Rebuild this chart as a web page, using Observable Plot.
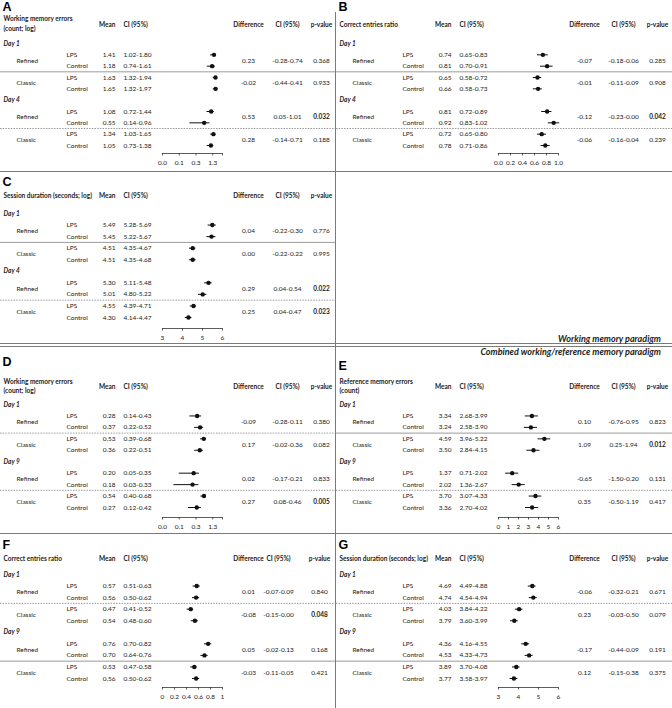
<!DOCTYPE html>
<html><head><meta charset="utf-8">
<script src="https://cdn.jsdelivr.net/npm/d3@7"></script>
<script src="https://cdn.jsdelivr.net/npm/@observablehq/plot@0.6"></script>
<style>
html,body{margin:0;padding:0;background:#fff;}
#fig{position:relative;width:672px;height:708px;overflow:hidden;background:#fff;}
.panel{position:absolute;}
.panel svg{display:block;overflow:visible;}
.hline{position:absolute;left:0;width:672px;height:0;border-top:1.5px solid #7a7a7a;}
.vline{position:absolute;width:0;border-left:1.5px solid #7a7a7a;}
.paradigm{position:absolute;right:11px;font-family:Lato,sans-serif;font-style:italic;font-weight:bold;font-size:9px;line-height:10px;color:#222;white-space:nowrap;}
</style></head><body><div id="fig"></div>
<script>
// ---------- data ----------
const protocols = ["Refined", "Classic"];
const treatments = ["LPS", "Control"];
const colHeaders = ["Mean", "CI (95%)", "Difference", "CI (95%)", "p-value"];

const titleA = ["Working memory errors", "(count; log)"];
const titleB = ["Correct entries ratio"];
const titleC = ["Session duration (seconds; log)"];
const titleD = ["Working memory errors", "(count; log)"];
const titleE = ["Reference memory errors", "(count)"];
const titleF = ["Correct entries ratio"];
const titleG = ["Session duration (seconds; log)"];
const daysWM = ["Day 1", "Day 4"];
const daysComb = ["Day 1", "Day 9"];

// order: day1 Refined LPS, Control, Classic LPS, Control, day2 Refined LPS, Control, Classic LPS, Control
const meanA = [1.41, 1.18, 1.63, 1.65, 1.08, 0.55, 1.34, 1.05];
const loA   = [1.02, 0.74, 1.32, 1.32, 0.72, 0.14, 1.03, 0.73];
const hiA   = [1.80, 1.61, 1.94, 1.97, 1.44, 0.96, 1.65, 1.38];
const diffA = [0.23, -0.02, 0.53, 0.28];
const dloA  = [-0.28, -0.44, 0.05, -0.14];
const dhiA  = [0.74, 0.41, 1.01, 0.71];
const pA    = [0.368, 0.933, 0.032, 0.188];

const meanB = [0.74, 0.81, 0.65, 0.66, 0.81, 0.92, 0.72, 0.78];
const loB   = [0.65, 0.70, 0.58, 0.58, 0.72, 0.83, 0.65, 0.71];
const hiB   = [0.83, 0.91, 0.72, 0.73, 0.89, 1.02, 0.80, 0.86];
const diffB = [-0.07, -0.01, -0.12, -0.06];
const dloB  = [-0.18, -0.11, -0.23, -0.16];
const dhiB  = [0.06, 0.09, 0.00, 0.04];
const pB    = [0.285, 0.908, 0.042, 0.239];

const meanC = [5.49, 5.45, 4.51, 4.51, 5.30, 5.01, 4.55, 4.30];
const loC   = [5.28, 5.22, 4.35, 4.35, 5.11, 4.80, 4.39, 4.14];
const hiC   = [5.69, 5.67, 4.67, 4.68, 5.48, 5.22, 4.71, 4.47];
const diffC = [0.04, 0.00, 0.29, 0.25];
const dloC  = [-0.22, -0.22, 0.04, 0.04];
const dhiC  = [0.30, 0.22, 0.54, 0.47];
const pC    = [0.776, 0.995, 0.022, 0.023];

const meanD = [0.28, 0.37, 0.53, 0.36, 0.20, 0.18, 0.54, 0.27];
const loD   = [0.14, 0.22, 0.39, 0.22, 0.05, 0.03, 0.40, 0.12];
const hiD   = [0.43, 0.52, 0.68, 0.51, 0.35, 0.33, 0.68, 0.42];
const diffD = [-0.09, 0.17, 0.02, 0.27];
const dloD  = [-0.28, -0.02, -0.17, 0.08];
const dhiD  = [0.11, 0.36, 0.21, 0.46];
const pD    = [0.380, 0.082, 0.833, 0.005];

const meanE = [3.34, 3.24, 4.59, 3.50, 1.37, 2.02, 3.70, 3.36];
const loE   = [2.68, 2.58, 3.96, 2.84, 0.71, 1.36, 3.07, 2.70];
const hiE   = [3.99, 3.90, 5.22, 4.15, 2.02, 2.67, 4.33, 4.02];
const diffE = [0.10, 1.09, -0.65, 0.35];
const dloE  = [-0.76, 0.25, -1.50, -0.50];
const dhiE  = [0.95, 1.94, 0.20, 1.19];
const pE    = [0.823, 0.012, 0.131, 0.417];

const meanF = [0.57, 0.56, 0.47, 0.54, 0.76, 0.70, 0.53, 0.56];
const loF   = [0.51, 0.50, 0.41, 0.48, 0.70, 0.64, 0.47, 0.50];
const hiF   = [0.63, 0.62, 0.52, 0.60, 0.82, 0.76, 0.58, 0.62];
const diffF = [0.01, -0.08, 0.05, -0.03];
const dloF  = [-0.07, -0.15, -0.02, -0.11];
const dhiF  = [0.09, 0.00, 0.13, 0.05];
const pF    = [0.840, 0.048, 0.168, 0.421];

const meanG = [4.69, 4.74, 4.03, 3.79, 4.36, 4.53, 3.89, 3.77];
const loG   = [4.49, 4.54, 3.84, 3.60, 4.16, 4.33, 3.70, 3.58];
const hiG   = [4.88, 4.94, 4.22, 3.99, 4.55, 4.73, 4.08, 3.97];
const diffG = [-0.06, 0.23, -0.17, 0.12];
const dloG  = [-0.32, -0.03, -0.44, -0.15];
const dhiG  = [0.21, 0.50, 0.09, 0.38];
const pG    = [0.671, 0.079, 0.191, 0.375];

// axis ticks
const ticksLog = [0.01, 0.05, 0.25, 1.25, 3.2];
const tickLabelsLog = ["0.0", "0.1", "0.3", "1.3", ""];
const ticksRatio = [0, 0.2, 0.4, 0.6, 0.8, 1];
const tickLabelsRatioB = ["0.0", "0.2", "0.4", "0.6", "0.8", "1.0"];
const tickLabelsRatioF = ["0", "0.2", "0.4", "0.6", "0.8", "1"];
const ticksDur = [3, 4, 5, 6];
const tickLabelsDur = ["3", "4", "5", "6"];
const ticksRef = [0, 1, 2, 3, 4, 5, 6];
const tickLabelsRef = ["0", "1", "2", "3", "4", "5", "6"];

const paradigmLabels = ["Working memory paradigm", "Combined working/reference memory paradigm"];

// ---------- layout ----------
const colsDefault = {day: 3, protocol: 16, treat: 66, mean: 115, ci: 123, diff: 248, dci: 287, p: 321};
const colsF = {...colsDefault, dci: 278, p: 319};
const layWM = {h: 172, p0: 43, p9: 145, axis: 153};

const specs = [
  {id: "A", left: 0, top: 0, ...layWM, letterY: 6, titleY: [18, 28], headY: 24, seps: ["solid", "dash"], xType: "log", xDomain: [0.01, 3.2], ticks: ticksLog, labels: tickLabelsLog,
   title: titleA, days: daysWM, mean: meanA, lo: loA, hi: hiA, diff: diffA, dlo: dloA, dhi: dhiA, p: pA, cols: colsDefault},
  {id: "B", left: 336, top: 0, ...layWM, letterY: 6, titleY: [24], headY: 24, seps: ["solid", "dash"], xType: "linear", xDomain: [0, 1], ticks: ticksRatio, labels: tickLabelsRatioB,
   title: titleB, days: daysWM, mean: meanB, lo: loB, hi: hiB, diff: diffB, dlo: dloB, dhi: dhiB, p: pB, cols: colsDefault},
  {id: "C", left: 0, top: 172, h: 172, p0: 41, p9: 145, axis: 156, letterY: 9, titleY: [23], headY: 23, seps: ["solid", "dash"], xType: "linear", xDomain: [3, 6], ticks: ticksDur, labels: tickLabelsDur,
   title: titleC, days: daysWM, mean: meanC, lo: loC, hi: hiC, diff: diffC, dlo: dloC, dhi: dhiC, p: pC, cols: colsDefault},
  {id: "D", left: 0, top: 346, h: 188, p0: 58, p9: 161, axis: 171, letterY: 15, titleY: [35, 44], headY: 40, seps: ["dash", "dash"], xType: "log", xDomain: [0.01, 3.2], ticks: ticksLog, labels: tickLabelsLog,
   title: titleD, days: daysComb, mean: meanD, lo: loD, hi: hiD, diff: diffD, dlo: dloD, dhi: dhiD, p: pD, cols: colsDefault},
  {id: "E", left: 336, top: 346, h: 188, p0: 58, p9: 161, axis: 171, letterY: 19, titleY: [35, 44], headY: 40, seps: ["solid", "dash"], xType: "linear", xDomain: [0, 6], ticks: ticksRef, labels: tickLabelsRef,
   title: titleE, days: daysComb, mean: meanE, lo: loE, hi: hiE, diff: diffE, dlo: dloE, dhi: dhiE, p: pE, cols: colsDefault},
  {id: "F", left: 0, top: 534, h: 174, p0: 40, p9: 144, axis: 153, letterY: 10, titleY: [24], headY: 24, seps: ["dash", "solid"], xType: "linear", xDomain: [0, 1], ticks: ticksRatio, labels: tickLabelsRatioF,
   title: titleF, days: daysComb, mean: meanF, lo: loF, hi: hiF, diff: diffF, dlo: dloF, dhi: dhiF, p: pF, cols: colsF},
  {id: "G", left: 336, top: 534, h: 174, p0: 40, p9: 144, axis: 153, letterY: 10, titleY: [24], headY: 24, seps: ["dash", "solid"], xType: "linear", xDomain: [3, 6], ticks: ticksDur, labels: tickLabelsDur,
   title: titleG, days: daysComb, mean: meanG, lo: loG, hi: hiG, diff: diffG, dlo: dloG, dhi: dhiG, p: pG, cols: colsDefault}
];

const rowIdx = [1, 2, 3, 4, 6, 7, 8, 9];
const groupRows = [1.5, 3.5, 6.5, 8.5];
const dayRows = [0, 5];

const FONT = "Lato, 'Open Sans', sans-serif";
const TXT = "#222";
const FS = 6.5;
const f2 = v => v.toFixed(2);

function panel(s) {
  const toRow = px => 9 * (px - s.p0) / (s.p9 - s.p0);
  const c = s.cols;
  const rows = s.mean.map((m, i) => ({row: rowIdx[i], treat: treatments[i % 2], mean: m, lo: s.lo[i], hi: s.hi[i]}));
  const groups = s.diff.map((d, i) => ({row: groupRows[i], protocol: protocols[i % 2], diff: d, dlo: s.dlo[i], dhi: s.dhi[i], p: s.p[i]}));
  const days = s.days.map((d, i) => ({row: dayRows[i], label: d}));
  const tickData = s.ticks.map((v, i) => ({v, label: s.labels[i]}));
  const axisRow = toRow(s.axis), tickEnd = toRow(s.axis + 2.5), labelRow = toRow(s.axis + 9);
  const txt = (data, o) => Plot.text(data, {frameAnchor: "left", fontSize: FS, fill: TXT, fontFamily: FONT, ...o});
  const sep = (r, kind) => Plot.ruleY([r], {stroke: "#9a9a9a", strokeWidth: 1, ...(kind === "dash" ? {strokeDasharray: "1.5,1.2"} : {})});
  const headRow = toRow(s.headY);
  return Plot.plot({
    width: 336, height: s.h,
    marginLeft: 0, marginRight: 0, marginTop: 0, marginBottom: 0,
    style: {fontFamily: FONT, fontSize: FS + "px", color: TXT, background: "transparent", overflow: "visible"},
    x: {type: s.xType, domain: s.xDomain, range: [162, 222], axis: null},
    y: {domain: [0, 9], range: [s.p0, s.p9], axis: null},
    marks: [
      sep(2.5, s.seps[0]),
      sep(7.5, s.seps[1]),
      // x axis (line, ticks, labels) drawn through the x scale
      Plot.ruleY([axisRow], {x1: () => s.xDomain[0], x2: () => s.xDomain[1], stroke: "#333", strokeWidth: 0.8}),
      Plot.ruleX(tickData, {x: "v", y1: () => axisRow, y2: () => tickEnd, stroke: "#333", strokeWidth: 0.8}),
      Plot.text(tickData, {x: "v", y: () => labelRow, text: "label", fontSize: FS, fill: TXT, fontFamily: FONT, textAnchor: "middle"}),
      // forest
      Plot.ruleY(rows, {y: "row", x1: "lo", x2: "hi", stroke: "#111", strokeWidth: 1}),
      Plot.dot(rows, {x: "mean", y: "row", r: 2.2, fill: "#111", stroke: "none"}),
      // panel letter
      Plot.text([s.id], {frameAnchor: "left", dx: 2, y: () => toRow(s.letterY), text: d => d, fontSize: 12.5, fontWeight: "bold", fontFamily: "'Liberation Sans', Arial, sans-serif", fill: "#000", textAnchor: "start"}),
      // titles
      txt(s.title.map((t, i) => ({t, row: toRow(s.titleY[i])})), {y: "row", text: "t", dx: c.day, textAnchor: "start", fontWeight: "bold"}),
      txt([colHeaders[0]], {y: () => headRow, text: d => d, dx: c.mean, textAnchor: "end", fontWeight: "bold"}),
      txt([colHeaders[1]], {y: () => headRow, text: d => d, dx: c.ci, textAnchor: "start", fontWeight: "bold"}),
      txt([colHeaders[2]], {y: () => headRow, text: d => d, dx: c.diff, textAnchor: "middle", fontWeight: "bold"}),
      txt([colHeaders[3]], {y: () => headRow, text: d => d, dx: c.dci, textAnchor: "middle", fontWeight: "bold"}),
      txt([colHeaders[4]], {y: () => headRow, text: d => d, dx: c.p, textAnchor: "middle", fontWeight: "bold"}),
      // table body
      txt(days, {y: "row", text: "label", dx: c.day, textAnchor: "start", fontWeight: "bold", fontStyle: "italic"}),
      txt(groups, {y: "row", text: "protocol", dx: c.protocol, textAnchor: "start"}),
      txt(rows, {y: "row", text: "treat", dx: c.treat, textAnchor: "start"}),
      txt(rows, {y: "row", text: d => f2(d.mean), dx: c.mean, textAnchor: "end"}),
      txt(rows, {y: "row", text: d => `${f2(d.lo)}-${f2(d.hi)}`, dx: c.ci, textAnchor: "start"}),
      txt(groups, {y: "row", text: d => f2(d.diff), dx: c.diff, textAnchor: "middle"}),
      txt(groups, {y: "row", text: d => `${f2(d.dlo)}-${f2(d.dhi)}`, dx: c.dci, textAnchor: "middle"}),
      txt(groups.filter(g => g.p >= 0.05), {y: "row", text: d => d.p.toFixed(3), dx: c.p, textAnchor: "middle"}),
      txt(groups.filter(g => g.p < 0.05), {y: "row", text: d => d.p.toFixed(3), dx: c.p, textAnchor: "middle", fontWeight: "bold"})
    ]
  });
}

const fig = document.getElementById("fig");
for (const s of specs) {
  const div = document.createElement("div");
  div.className = "panel";
  div.style.left = s.left + "px";
  div.style.top = s.top + "px";
  div.appendChild(panel(s));
  fig.appendChild(div);
}
// frame lines
const addLine = (cls, style) => { const d = document.createElement("div"); d.className = cls; Object.assign(d.style, style); fig.appendChild(d); };
addLine("vline", {left: "335px", top: "12px", height: "696px"});
addLine("hline", {top: "171px"});
addLine("hline", {top: "342.5px"});
addLine("hline", {top: "345.5px"});
addLine("hline", {top: "532.5px"});
// paradigm labels
[[paradigmLabels[0], 334], [paradigmLabels[1], 347]].forEach(([t, top]) => {
  const d = document.createElement("div");
  d.className = "paradigm";
  d.style.top = top + "px";
  d.textContent = t;
  fig.appendChild(d);
});
</script></body></html>
